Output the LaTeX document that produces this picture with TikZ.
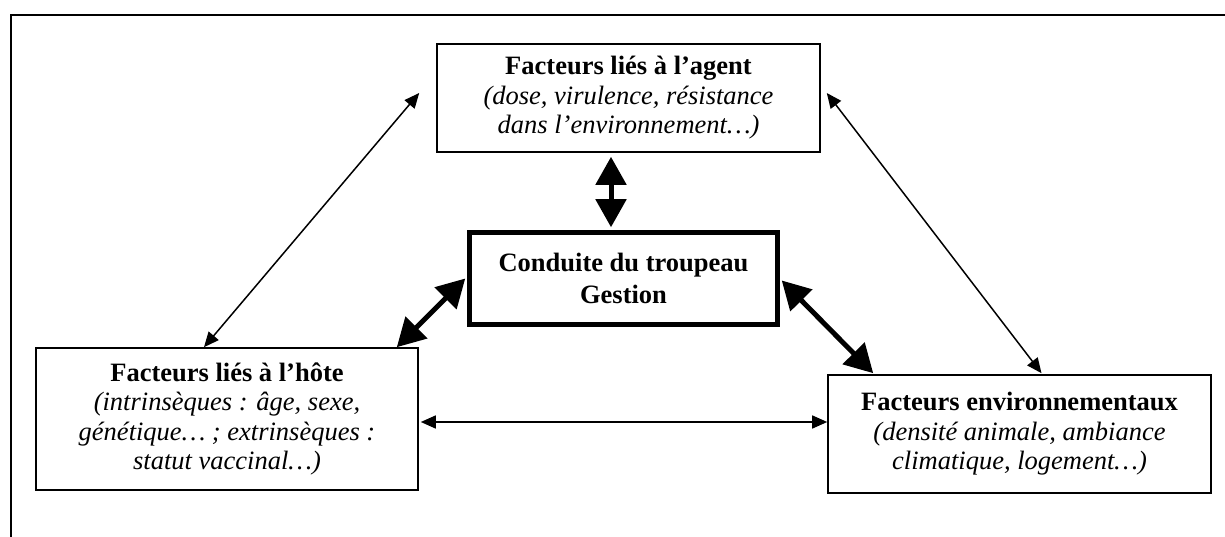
\documentclass[tikz,border=0pt]{standalone}
\usepackage{fontspec}
\setmainfont{Liberation Serif}
\usetikzlibrary{arrows.meta,calc}

\tikzset{
  factor/.style={draw, line width=1.6pt, inner sep=0pt, align=center,
    font=\fontsize{26.5}{29.5}\selectfont},
  hub/.style={draw, line width=4.5pt, inner sep=0pt, align=center,
    font=\bfseries\fontsize{26.5}{31.5}\selectfont},
  thinlink/.style={line width=1.5pt, {Triangle[length=15pt,width=13pt]}-{Triangle[length=15pt,width=13pt]}},
  thicklink/.style={line width=5pt, {Triangle[length=28pt,width=30pt]}-{Triangle[length=28pt,width=30pt]}},
}

\begin{document}
\begin{tikzpicture}[x=1pt, y=-1pt]
\useasboundingbox (0,0) rectangle (1225,537);

% outer frame (top and left edges)
\draw[line width=2pt] (11,537) -- (11,15) -- (1225,15);

% factor boxes
\node[factor, minimum width=383pt, minimum height=108pt] (agent) at (628.5,98)
  {\textbf{Facteurs liés à l’agent}\\ \textit{(dose, virulence, résistance}\\ \textit{dans l’environnement…)}};
\node[factor, minimum width=382pt, minimum height=142pt] (hote) at (227,419)
  {\textbf{Facteurs liés à l’hôte}\\ \textit{(intrinsèques : âge, sexe,}\\ \textit{génétique… ; extrinsèques :}\\ \textit{statut vaccinal…)}};
\node[factor, minimum width=383pt, minimum height=118pt] (env) at (1019.5,434)
  {\textbf{Facteurs environnementaux}\\ \textit{(densité animale, ambiance}\\ \textit{climatique, logement…)}};

% central management box
\node[hub, minimum width=308pt, minimum height=92pt] (herd) at (623.5,278.5)
  {Conduite du troupeau\\ Gestion};

% free ends of the connectors
\coordinate (aL) at ($(agent.west)+(-17,-5)$);
\coordinate (aR) at ($(agent.east)+(6,-5)$);
\coordinate (aB) at ($(agent.south)+(-17.5,4)$);
\coordinate (hT) at ($(hote.north)+(-23,0)$);
\coordinate (hTR) at ($(hote.north east)+(-22,0)$);
\coordinate (hR) at ($(hote.east)+(2,3)$);
\coordinate (eT) at ($(env.north)+(22,-1)$);
\coordinate (eTL) at ($(env.north west)+(46,-1)$);
\coordinate (eL) at ($(env.west)+(0,-12)$);
\coordinate (gT) at ($(herd.north)+(-12.5,-3)$);
\coordinate (gL) at ($(herd.west)+(-2,0)$);
\coordinate (gR) at ($(herd.east)+(2,2)$);

% interactions between the three factor groups
\draw[thinlink] (aL) -- (hT);
\draw[thinlink] (aR) -- (eT);
\draw[thinlink] (hR) -- (eL);

% interactions with herd management
\draw[thicklink] (aB) -- (gT);
\draw[thicklink] (hTR) -- (gL);
\draw[thicklink] (gR) -- (eTL);
\end{tikzpicture}
\end{document}
